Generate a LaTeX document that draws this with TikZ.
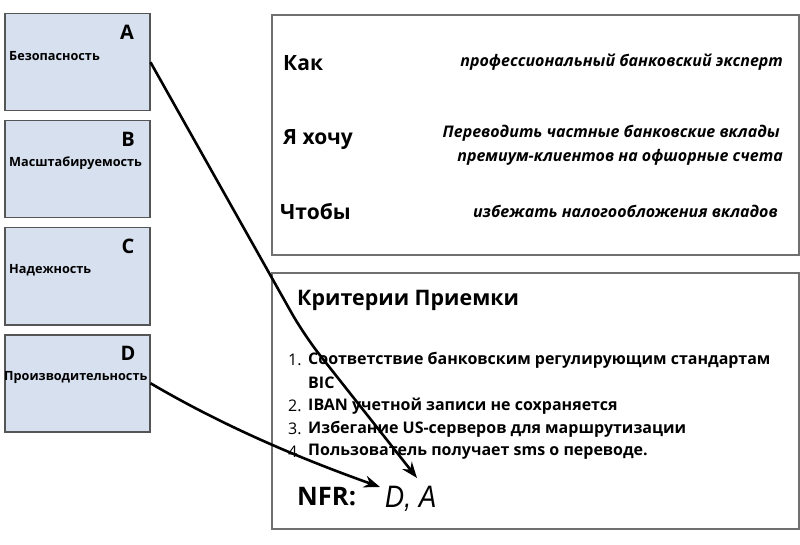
\documentclass[tikz,border=0pt]{standalone}
\usepackage{fontspec}
\setmainfont{Open Sans}
\newfontfamily\handfont{Liberation Sans}
\usetikzlibrary{arrows.meta}
\definecolor{boxfill}{HTML}{D6E0EE}
\definecolor{boxline}{HTML}{555555}
\definecolor{frameline}{HTML}{707070}
\tikzset{
  nfrbox/.style={draw=boxline, line width=1.5pt, fill=boxfill, minimum width=145pt, minimum height=97pt, inner sep=0pt, anchor=north west},
  nfrlabel/.style={font=\fontsize{12.7}{14}\selectfont\bfseries, anchor=west, inner sep=0pt},
  nfrletter/.style={font=\fontsize{20}{22}\selectfont\bfseries, inner sep=0pt},
  panel/.style={draw=frameline, line width=2pt, anchor=north west, inner sep=0pt},
  headword/.style={font=\fontsize{21}{24}\selectfont\bfseries, anchor=west, inner sep=0pt},
  storytext/.style={font=\fontsize{16}{19}\selectfont\bfseries\itshape, anchor=east, inner sep=0pt},
  listtext/.style={font=\fontsize{16}{19}\selectfont\bfseries, anchor=west, inner sep=0pt},
  listnum/.style={font=\fontsize{16}{19}\selectfont, anchor=west, inner sep=0pt},
  linkarrow/.style={line width=2.6pt, -{Stealth[length=16pt,width=12pt]}},
}
\begin{document}
\begin{tikzpicture}[x=1pt,y=-1pt]
\useasboundingbox[fill=white] (0,0) rectangle (800,545);
% left boxes
\node[nfrbox] (A) at (4,13) {};
\node[nfrbox] (B) at (4,120) {};
\node[nfrbox] (C) at (4,227) {};
\node[nfrbox] (D) at (4,334) {};
\node[nfrlabel] (Al) at (9,56) {Безопасность};
\node[nfrlabel] (Bl) at (9,163) {Масштабируемость};
\node[nfrlabel] (Cl) at (9,270) {Надежность};
\node[nfrlabel] (Dl) at (4,377) {Производительность};
\node[nfrletter] (Ak) at (127,32) {A};
\node[nfrletter] (Bk) at (128,139) {B};
\node[nfrletter] (Ck) at (128,246) {C};
\node[nfrletter] (Dk) at (128,353) {D};
% story panel
\node[panel, minimum width=527pt, minimum height=240pt] (story) at (271,14) {};
\node[headword] (kak) at (283,63) {Как};
\node[headword] (hochu) at (283,140) {Я хочу};
\node[headword] (chtoby) at (280,212) {Чтобы};
\node[storytext] (s1) at (783,62) {профессиональный банковский эксперт};
\node[storytext] (s2) at (780,133) {Переводить частные банковские вклады};
\node[storytext] (s3) at (783,157) {премиум-клиентов на офшорные счета};
\node[storytext] (s4) at (778,211) {избежать налогообложения вкладов};
% criteria panel
\node[panel, minimum width=527pt, minimum height=256pt] (crit) at (271,272) {};
\node[font=\fontsize{21.4}{25}\selectfont\bfseries, anchor=west, inner sep=0pt] (crittitle) at (297,300) {Критерии Приемки};
\node[listnum] (n1) at (288,360) {1.};
\node[listtext] (t1) at (308,360) {Соответствие банковским регулирующим стандартам};
\node[listtext] (t1b) at (308,383) {BIC};
\node[listnum] (n2) at (288,406) {2.};
\node[listtext] (t2) at (308,406) {IBAN учетной записи не сохраняется};
\node[listnum] (n3) at (288,429) {3.};
\node[listtext] (t3) at (308,429) {Избегание US-серверов для маршрутизации};
\node[listnum] (n4) at (288,452) {4.};
\node[listtext] (t4) at (308,452) {Пользователь получает sms о переводе.};
\node[font=\fontsize{25.5}{29}\selectfont\bfseries, anchor=west, inner sep=0pt] (nfr) at (297,497) {NFR:};
\node[font=\handfont\fontsize{31}{34}\selectfont\itshape, anchor=west, inner sep=0pt, xscale=0.85] (da) at (385,499) {D, A};
% connectors
\coordinate (tipA) at (417,478);
\coordinate (tipD) at (380,487);
\coordinate (bendA) at (304,335);
\draw[linkarrow, rounded corners=25pt] (A.east) -- (bendA) -- (tipA);
\draw[linkarrow] (D.east) .. controls (230,430) and (310,462) .. (tipD);
\end{tikzpicture}
\end{document}
